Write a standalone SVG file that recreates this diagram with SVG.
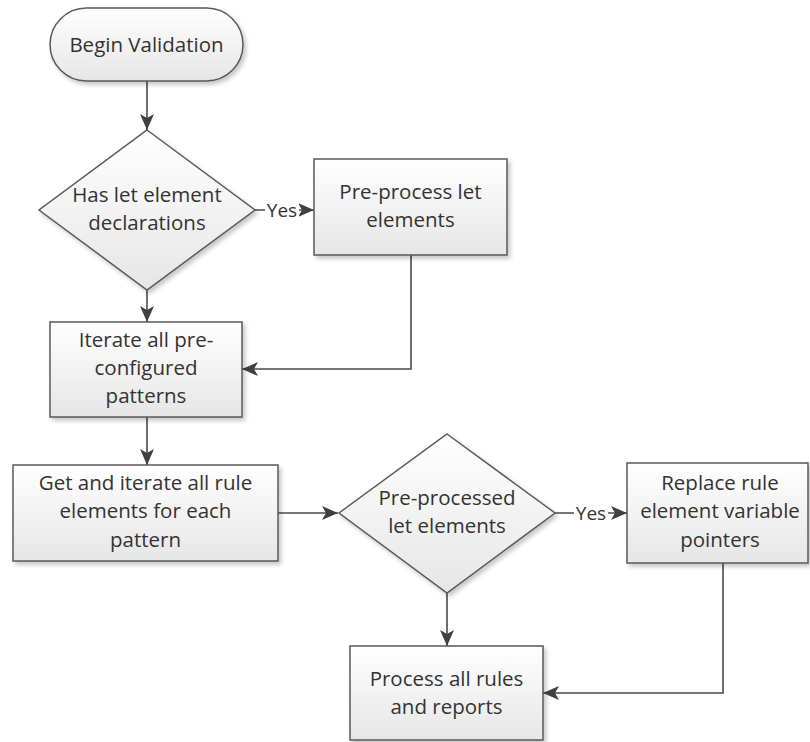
<svg xmlns="http://www.w3.org/2000/svg" width="810" height="742" viewBox="0 0 810 742">
  <defs>
    <linearGradient id="shapeFill" x1="0" y1="0" x2="0" y2="1">
      <stop offset="0" stop-color="#ffffff"/>
      <stop offset="1" stop-color="#e6e6e6"/>
    </linearGradient>
    <filter id="shadow" x="-10%" y="-10%" width="125%" height="130%">
      <feDropShadow dx="2.5" dy="3" stdDeviation="2" flood-color="#000" flood-opacity="0.22"/>
    </filter>
    <marker id="arrow" viewBox="0 0 16 14" refX="16" refY="7" markerWidth="16" markerHeight="14" markerUnits="userSpaceOnUse" orient="auto">
      <path d="M0,0 L16,7 L0,14 L4,7 Z" fill="#404040"/>
    </marker>
  </defs>
  <style>
    .shape { fill: url(#shapeFill); stroke: #595959; stroke-width: 1.5; filter: url(#shadow); }
    .label { font-family: "Open Sans", "Noto Sans", sans-serif; font-size: 20.5px; fill: #333333; text-anchor: middle; }
    .yes { font-family: "Open Sans", "Noto Sans", sans-serif; font-size: 19px; fill: #333333; text-anchor: middle; }
    .conn { fill: none; stroke: #4a4a4a; stroke-width: 1.6; marker-end: url(#arrow); }
  </style>

  <rect width="810" height="742" fill="#ffffff"/>

  <!-- connectors -->
  <g id="connectors">
    <path class="conn" d="M147,81 L147,130"/>
    <path class="conn" d="M254,210 L314,210"/>
    <path class="conn" d="M147,290 L147,322"/>
    <path class="conn" d="M411,255 L411,369 L242,369"/>
    <path class="conn" d="M147,417 L147,465"/>
    <path class="conn" d="M278,513 L338,513"/>
    <path class="conn" d="M555,513 L627,513"/>
    <path class="conn" d="M447,593 L447,646"/>
    <path class="conn" d="M723,563 L723,693 L543,693"/>
    <rect x="265" y="198" width="34" height="24" fill="#ffffff"/>
    <text class="yes" x="282" y="217">Yes</text>
    <rect x="574" y="501" width="34" height="24" fill="#ffffff"/>
    <text class="yes" x="591" y="520">Yes</text>
  </g>

  <!-- start terminator -->
  <g id="begin">
    <rect class="shape" x="50" y="8" width="193" height="73" rx="36.5" ry="36.5"/>
    <text class="label" x="146.5" y="52">Begin Validation</text>
  </g>

  <!-- decision: let declarations -->
  <g id="has-let">
    <polygon class="shape" points="147,130 255,210 147,290 39,210"/>
    <text class="label" x="147" y="202">Has let element</text>
    <text class="label" x="147" y="230">declarations</text>
  </g>

  <!-- pre-process let -->
  <g id="preprocess-let">
    <rect class="shape" x="314" y="159" width="193" height="96"/>
    <text class="label" x="410.5" y="199">Pre-process let</text>
    <text class="label" x="410.5" y="227">elements</text>
  </g>

  <!-- iterate patterns -->
  <g id="iterate-patterns">
    <rect class="shape" x="50" y="322" width="192" height="95"/>
    <text class="label" x="146" y="347">Iterate all pre-</text>
    <text class="label" x="146" y="375">configured</text>
    <text class="label" x="146" y="403">patterns</text>
  </g>

  <!-- get rule elements -->
  <g id="get-rules">
    <rect class="shape" x="13" y="465" width="265" height="96"/>
    <text class="label" x="145.5" y="490">Get and iterate all rule</text>
    <text class="label" x="145.5" y="518">elements for each</text>
    <text class="label" x="145.5" y="547">pattern</text>
  </g>

  <!-- decision: pre-processed let -->
  <g id="preprocessed">
    <polygon class="shape" points="447,434 555,513 447,593 339,513"/>
    <text class="label" x="447" y="505">Pre-processed</text>
    <text class="label" x="447" y="533">let elements</text>
  </g>

  <!-- replace pointers -->
  <g id="replace-pointers">
    <rect class="shape" x="627" y="463" width="181" height="100"/>
    <text class="label" x="720" y="490">Replace rule</text>
    <text class="label" x="720" y="518">element variable</text>
    <text class="label" x="720" y="547">pointers</text>
  </g>

  <!-- process rules -->
  <g id="process-rules">
    <rect class="shape" x="350" y="646" width="193" height="94"/>
    <text class="label" x="446.5" y="686">Process all rules</text>
    <text class="label" x="446.5" y="714">and reports</text>
  </g>
</svg>
